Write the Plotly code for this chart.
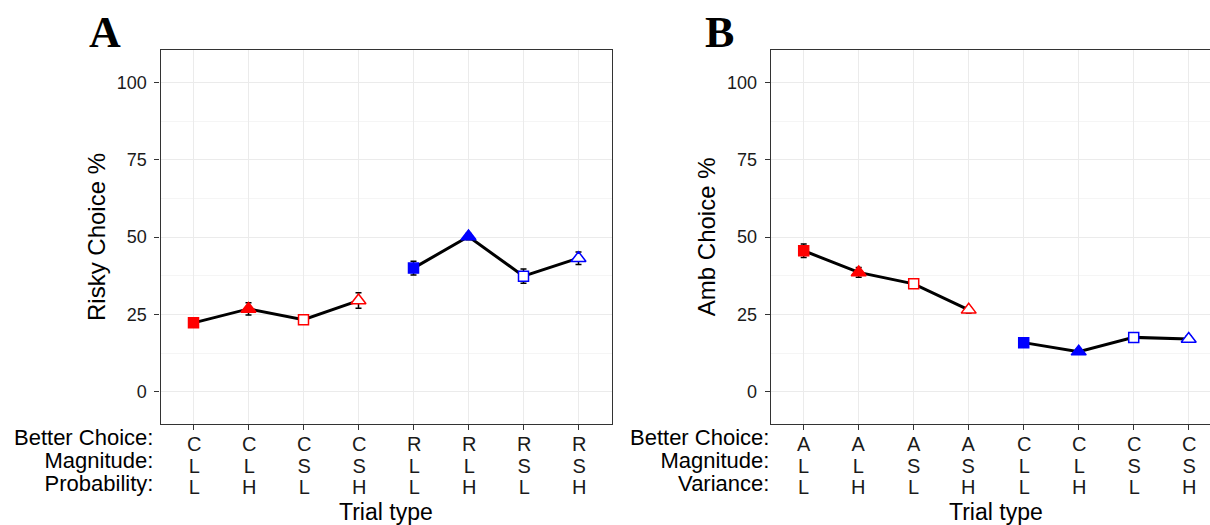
import plotly.graph_objects as go

# ---------------- data ----------------
better_A = ["C", "C", "C", "C", "R", "R", "R", "R"]
magnitude_A = ["L", "L", "S", "S", "L", "L", "S", "S"]
probability_A = ["L", "H", "L", "H", "L", "H", "L", "H"]
risky_pct = [22.3, 26.8, 23.3, 29.5, 40.0, 50.2, 37.4, 43.2]
risky_err = [1.0, 2.0, 1.0, 2.5, 2.2, 1.0, 2.3, 2.0]

better_B = ["A", "A", "A", "A", "C", "C", "C", "C"]
magnitude_B = ["L", "L", "S", "S", "L", "L", "S", "S"]
variance_B = ["L", "H", "L", "H", "L", "H", "L", "H"]
amb_pct = [45.6, 38.6, 34.9, 26.5, 15.9, 13.0, 17.6, 17.1]
amb_err = [2.2, 1.6, 1.0, 1.0, 1.0, 0.8, 1.0, 1.0]

y_ticks = [0, 25, 50, 75, 100]
row_labels_A = ["Better Choice:", "Magnitude:", "Probability:"]
row_labels_B = ["Better Choice:", "Magnitude:", "Variance:"]

# ---------------- styling ----------------
W, H = 1210, 525
RED, BLUE = "#FF0000", "#0000FF"
group_colors = [RED] * 4 + [BLUE] * 4
symbols = ["square", "triangle-up", "square", "triangle-up"] * 2
sizes = [10, 13, 10, 13] * 2
filled = [True, True, False, False] * 2
fills = [c if f else "white" for c, f in zip(group_colors, filled)]
FONT = "Liberation Sans, Arial, sans-serif"

def px_x(p):
    return p / W

def px_y(p):
    return (H - p) / H

ydom = [px_y(424), px_y(50)]
yrange = [-10.4, 110.5]

fig = go.Figure()

groups = [slice(0, 4), slice(4, 8)]
for xa, ya, vals, errs in [("x", "y", risky_pct, risky_err), ("x2", "y2", amb_pct, amb_err)]:
    idx = list(range(len(vals)))
    # error bars underneath
    fig.add_trace(go.Scatter(
        x=idx, y=vals, xaxis=xa, yaxis=ya, mode="markers",
        marker=dict(size=1, color="rgba(0,0,0,0)"),
        error_y=dict(type="data", array=errs, color="black", thickness=1.5, width=3),
        showlegend=False, hoverinfo="skip",
    ))
    for g in groups:
        fig.add_trace(go.Scatter(
            x=idx[g], y=vals[g], xaxis=xa, yaxis=ya,
            mode="lines+markers",
            line=dict(color="black", width=3),
            marker=dict(symbol=symbols[g], size=sizes[g], color=fills[g], opacity=1,
                        line=dict(color=group_colors[g], width=1.5)),
            showlegend=False, hoverinfo="skip",
        ))

axis_common = dict(
    ticks="outside", ticklen=5, tickwidth=1, tickcolor="#333333",
    showline=True, linecolor="#333333", linewidth=1.2,
    showgrid=True, gridcolor="#EBEBEB", gridwidth=1, zeroline=False,
)

yaxis_common = dict(
    range=yrange, domain=ydom, tickvals=y_ticks, ticklabelstandoff=4,
    tickfont=dict(size=18, color="#1a1a1a"),
    minor=dict(tickvals=[12.5, 37.5, 62.5, 87.5], showgrid=True,
               gridcolor="#F5F5F5", ticks=""),
)

fig.update_layout(
    width=W, height=H,
    margin=dict(l=0, r=0, t=0, b=0),
    paper_bgcolor="white", plot_bgcolor="white",
    font=dict(family=FONT, color="#1a1a1a"),
    xaxis=dict(domain=[px_x(160.5), px_x(611.5)], range=[-0.6, 7.6], anchor="y",
               tickvals=list(range(8)), showticklabels=False, mirror=True, **axis_common),
    yaxis=dict(anchor="x", mirror=True, **yaxis_common, **axis_common),
    xaxis2=dict(domain=[px_x(770.7), 1.0], range=[-0.6, 7.387], anchor="y2",
                tickvals=list(range(8)), showticklabels=False, mirror=True, **axis_common),
    yaxis2=dict(anchor="x2", mirror=False, **yaxis_common, **axis_common),
)


def stacked(lines, size):
    return "<br>".join('<span style="font-size:%dpx">%s</span>' % (size, t) for t in lines)


ann = []
panels = [
    ("x", [better_A, magnitude_A, probability_A], row_labels_A, 154.5, 160.5, "Risky Choice %", "A", 105),
    ("x2", [better_B, magnitude_B, variance_B], row_labels_B, 771.0, 770.7, "Amb Choice %", "B", 719),
]
for xref, rows, rlabels, lab_right, left_px, ytitle, letter, letter_x in panels:
    # tick-letter columns (one stacked label per category)
    for i, col in enumerate(zip(*rows)):
        ann.append(dict(x=i, y=px_y(465.5), xref=xref, yref="paper",
                        text=stacked(col, 20), showarrow=False,
                        xanchor="center", yanchor="middle", align="center",
                        font=dict(size=16.7, family=FONT, color="#1a1a1a")))
    # row labels
    ann.append(dict(x=px_x(lab_right), y=px_y(460.5), xref="paper", yref="paper",
                    text=stacked(rlabels, 22), showarrow=False,
                    xanchor="right", yanchor="middle", align="right",
                    font=dict(size=17.7, family=FONT, color="black")))
    ann.append(dict(x=3.5, y=px_y(512), xref=xref, yref="paper", text="Trial type",
                    showarrow=False, xanchor="center", yanchor="middle",
                    font=dict(size=23, family=FONT, color="black")))
    ann.append(dict(x=px_x(left_px - 63.5), y=px_y(237), xref="paper", yref="paper",
                    text=ytitle, textangle=-90, showarrow=False,
                    xanchor="center", yanchor="middle",
                    font=dict(size=24, family=FONT, color="black")))
    ann.append(dict(x=px_x(letter_x), y=px_y(33), xref="paper", yref="paper",
                    text="<b>" + letter + "</b>", showarrow=False,
                    xanchor="center", yanchor="middle",
                    font=dict(size=44, family="Liberation Serif, DejaVu Serif, serif", color="black")))

fig.update_layout(annotations=ann)
fig.write_html("out.html")
